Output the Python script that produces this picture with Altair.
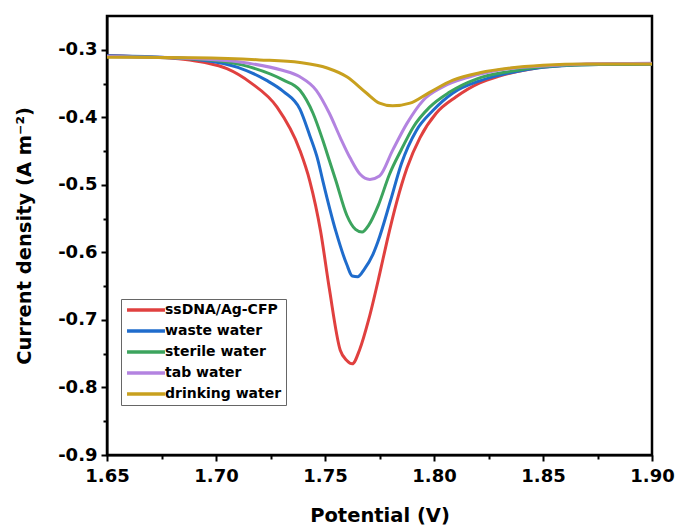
import altair as alt
import pandas as pd

series_names = ["ssDNA/Ag-CFP", "waste water", "sterile water", "tab water", "drinking water"]
series_colors = ["#e0403f", "#1f6ccc", "#3ca45e", "#b383e0", "#c8a01e"]

red_x = [1.650, 1.670, 1.685, 1.695, 1.705, 1.716, 1.728, 1.7385, 1.743, 1.748, 1.752, 1.757, 1.760,
         1.7625, 1.766, 1.770, 1.775, 1.7784, 1.783, 1.7876, 1.7936, 1.801, 1.810, 1.821, 1.830,
         1.845, 1.860, 1.880, 1.900]
red_y = [-0.309, -0.311, -0.314, -0.319, -0.328, -0.349, -0.385, -0.449, -0.494, -0.569, -0.654,
         -0.745, -0.760, -0.765, -0.743, -0.700, -0.633, -0.584, -0.524, -0.475, -0.430, -0.394,
         -0.370, -0.349, -0.339, -0.328, -0.323, -0.321, -0.321]

blue_x = [1.650, 1.675, 1.693, 1.710, 1.723, 1.731, 1.7385, 1.743, 1.7468, 1.749, 1.755, 1.760,
          1.7625, 1.765, 1.768, 1.772, 1.7743, 1.780, 1.785, 1.792, 1.7995, 1.8087, 1.821, 1.835,
          1.850, 1.870, 1.900]
blue_y = [-0.309, -0.311, -0.315, -0.326, -0.345, -0.362, -0.388, -0.427, -0.464, -0.494, -0.569,
          -0.618, -0.635, -0.636, -0.625, -0.603, -0.584, -0.524, -0.469, -0.419, -0.390, -0.364,
          -0.346, -0.334, -0.326, -0.322, -0.321]

green_x = [1.650, 1.680, 1.700, 1.715, 1.731, 1.7385, 1.7445, 1.749, 1.752, 1.755, 1.760, 1.764,
           1.767, 1.770, 1.7745, 1.7795, 1.785, 1.7904, 1.798, 1.807, 1.8197, 1.835, 1.850, 1.870,
           1.900]
green_y = [-0.310, -0.312, -0.316, -0.325, -0.345, -0.360, -0.394, -0.434, -0.464, -0.494, -0.545,
           -0.566, -0.570, -0.560, -0.530, -0.485, -0.448, -0.415, -0.385, -0.363, -0.343, -0.332,
           -0.325, -0.322, -0.321]

purple_x = [1.650, 1.690, 1.715, 1.730, 1.7385, 1.746, 1.752, 1.757, 1.7615, 1.766, 1.7706, 1.775,
            1.781, 1.7876, 1.795, 1.804, 1.8165, 1.830, 1.850, 1.870, 1.900]
purple_y = [-0.310, -0.313, -0.320, -0.330, -0.340, -0.360, -0.394, -0.430, -0.460, -0.484, -0.492,
            -0.487, -0.449, -0.409, -0.375, -0.355, -0.340, -0.330, -0.324, -0.321, -0.320]

gold_x = [1.650, 1.690, 1.720, 1.7385, 1.751, 1.760, 1.769, 1.775, 1.781, 1.789, 1.798, 1.8087,
          1.821, 1.835, 1.850, 1.870, 1.900]
gold_y = [-0.311, -0.312, -0.315, -0.319, -0.327, -0.340, -0.364, -0.379, -0.383, -0.379, -0.363,
          -0.345, -0.334, -0.327, -0.323, -0.321, -0.321]

x_major = [1.65, 1.70, 1.75, 1.80, 1.85, 1.90]
x_minor = [1.675, 1.725, 1.775, 1.825, 1.875]
y_major = [-0.3, -0.4, -0.5, -0.6, -0.7, -0.8, -0.9]
y_minor = [-0.35, -0.45, -0.55, -0.65, -0.75, -0.85]

rows = []
for name, xs, ys in zip(series_names,
                        [red_x, blue_x, green_x, purple_x, gold_x],
                        [red_y, blue_y, green_y, purple_y, gold_y]):
    for i, (a, b) in enumerate(zip(xs, ys)):
        rows.append({"series": name, "potential": a, "current": b, "order": i})
df = pd.DataFrame(rows)

FONT = "DejaVu Sans"
xscale = alt.Scale(domain=[1.65, 1.90], nice=False, zero=False)
yscale = alt.Scale(domain=[-0.9, -0.25], nice=False, zero=False)

lines = alt.Chart(df).mark_line(strokeWidth=3, interpolate="monotone").encode(
    x=alt.X("potential:Q", scale=xscale,
            axis=alt.Axis(orient="bottom", values=x_major, format=".2f", title="Potential (V)",
                          grid=False, tickSize=6, tickWidth=2, tickColor="black",
                          domainColor="black", domainWidth=2, labelFont=FONT, labelFontSize=18,
                          labelFontWeight="bold", labelColor="black", labelPadding=6,
                          titleFont=FONT, titleFontSize=19.5, titleFontWeight="bold",
                          titleColor="black", titlePadding=21, labelFlush=False)),
    y=alt.Y("current:Q", scale=yscale,
            axis=alt.Axis(orient="left", values=y_major,
                          labelExpr="'-' + format(abs(datum.value), '.1f')",
                          title="Current density (A m⁻²)",
                          grid=False, tickSize=6, tickWidth=2, tickColor="black",
                          domainColor="black", domainWidth=2, labelFont=FONT, labelFontSize=18,
                          labelFontWeight="bold", labelColor="black", labelPadding=4,
                          titleFont=FONT, titleFontSize=19.5, titleFontWeight="bold",
                          titleColor="black", titlePadding=23, labelFlush=False)),
    color=alt.Color("series:N", sort=series_names,
                    scale=alt.Scale(domain=series_names, range=series_colors),
                    legend=alt.Legend(orient="none", legendX=14, legendY=283, title=None,
                                      symbolType="M-4,0H4", symbolSize=90, symbolStrokeWidth=3.5,
                                      symbolFillColor="transparent",
                                      labelFont=FONT, labelFontSize=14, labelFontWeight="bold",
                                      labelColor="black", strokeColor="#666666", padding=4,
                                      rowPadding=7, labelOffset=12, symbolOffset=14)),
    order="order:Q",
)

minor = alt.Chart(df).mark_point(opacity=0).encode(
    x=alt.X("potential:Q", scale=xscale,
            axis=alt.Axis(orient="bottom", values=x_minor, labels=False, title=None, grid=False,
                          domain=False, tickSize=4, tickWidth=2, tickColor="black")),
    y=alt.Y("current:Q", scale=yscale,
            axis=alt.Axis(orient="left", values=y_minor, labels=False, title=None, grid=False,
                          domain=False, tickSize=4, tickWidth=2, tickColor="black")),
)

chart = alt.layer(lines, minor).resolve_axis(x="independent", y="independent").properties(
    width=545, height=439,
    autosize=alt.AutoSizeParams(type="none"),
    padding={"left": 107, "top": 16, "right": 24, "bottom": 76},
).configure_view(stroke="black", strokeWidth=2.5)

chart.save("out.html", embed_options={"renderer": "svg", "actions": False})
